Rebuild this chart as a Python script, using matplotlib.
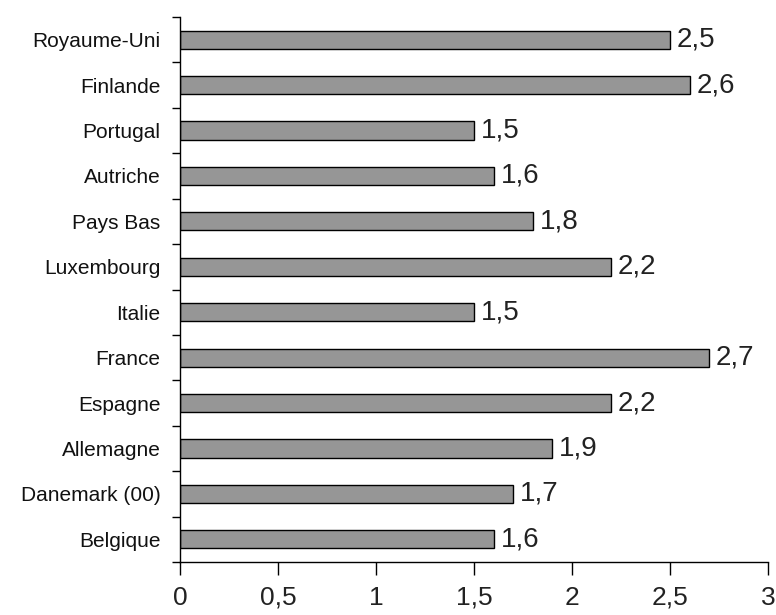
from matplotlib import pyplot as plt
import numpy as np

plt.rcParams['font.family'] = ['Liberation Sans', 'DejaVu Sans']

pays = ['Belgique', 'Danemark (00)', 'Allemagne', 'Espagne', 'France', 'Italie',
        'Luxembourg', 'Pays Bas', 'Autriche', 'Portugal', 'Finlande', 'Royaume-Uni']
valeurs = [1.6, 1.7, 1.9, 2.2, 2.7, 1.5, 2.2, 1.8, 1.6, 1.5, 2.6, 2.5]
xticks = [0, 0.5, 1, 1.5, 2, 2.5, 3]

fig = plt.figure(figsize=(7.76, 6.15), dpi=100)
ax = fig.add_axes([180 / 776, 1 - 562 / 615, 588 / 776, 545 / 615])

y = np.arange(len(pays))
bars = ax.barh(y, valeurs, height=0.4, color='#969696', edgecolor='black', linewidth=1)

for b, v in zip(bars, valeurs):
    ax.text(b.get_width() + 0.035, b.get_y() + b.get_height() / 2,
            f'{v:.1f}'.replace('.', ','), va='center', ha='left', fontsize=20, color='#222222')

ax.set_xlim(0, 3)
ax.set_ylim(-0.5, len(pays) - 0.5)
ax.set_xticks(xticks)
ax.set_xticklabels([str(t).replace('.', ',') for t in xticks], fontsize=19, color='#222222')
ax.tick_params(axis='x', length=9, width=1, pad=8)

ax.set_yticks(y)
ax.set_yticklabels(pays, fontsize=15, color='#111111')
ax.tick_params(axis='y', length=0, pad=14)
ax.set_yticks(np.arange(-0.5, len(pays)), minor=True)
ax.tick_params(axis='y', which='minor', length=6, width=1)

for s in ['top', 'right']:
    ax.spines[s].set_visible(False)
ax.spines['left'].set_linewidth(1)
ax.spines['bottom'].set_linewidth(1)

plt.savefig('out.png', dpi=100)
